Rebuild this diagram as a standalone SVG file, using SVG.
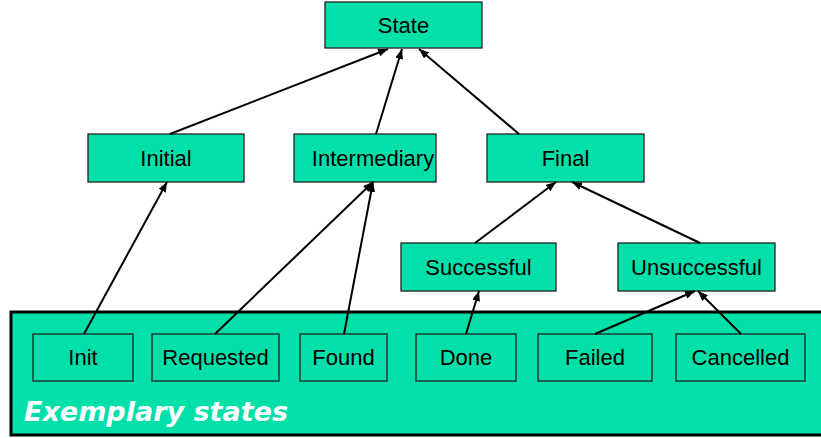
<svg xmlns="http://www.w3.org/2000/svg" width="821" height="438" viewBox="0 0 821 438">
<defs>
<marker id="ah" markerWidth="10" markerHeight="8" refX="10" refY="4" orient="auto" markerUnits="userSpaceOnUse">
<path d="M0,0 L10,4 L0,8 z" fill="#000"/>
</marker>
<style>
.n{fill:#00E0A8;stroke:#222;stroke-width:1.3}
.t{font-family:"Liberation Sans",Arial,sans-serif;font-size:22px;fill:#000;text-anchor:middle;dominant-baseline:central}
.c line{stroke:#000;stroke-width:2;marker-end:url(#ah)}
</style>
</defs>
<rect width="821" height="438" fill="#fff"/>
<g id="container">
<rect x="11" y="312" width="812" height="123" fill="#00E0A8" stroke="#000" stroke-width="3"/>
<text x="24" y="421" font-family="Verdana,'DejaVu Sans',sans-serif" font-size="26" font-weight="bold" font-style="italic" fill="#fff" textLength="264" lengthAdjust="spacingAndGlyphs">Exemplary states</text>
</g>
<g id="State"><rect class="n" x="325" y="2" width="157" height="46"/><text class="t" x="403.5" y="25">State</text></g>
<g id="Initial"><rect class="n" x="88" y="134" width="156" height="48"/><text class="t" x="166" y="158">Initial</text></g>
<g id="Intermediary"><rect class="n" x="294" y="134" width="142" height="48"/><text class="t" x="373" y="158">Intermediary</text></g>
<g id="Final"><rect class="n" x="487" y="134" width="157" height="48"/><text class="t" x="565.5" y="158">Final</text></g>
<g id="Successful"><rect class="n" x="401" y="243" width="155" height="48"/><text class="t" x="478.5" y="267">Successful</text></g>
<g id="Unsuccessful"><rect class="n" x="618" y="243" width="157" height="48"/><text class="t" x="696.5" y="267">Unsuccessful</text></g>
<g id="Init"><rect class="n" x="33" y="334" width="100" height="47"/><text class="t" x="83" y="357.5">Init</text></g>
<g id="Requested"><rect class="n" x="152" y="334" width="127" height="47"/><text class="t" x="215.5" y="357.5">Requested</text></g>
<g id="Found"><rect class="n" x="300" y="334" width="87" height="47"/><text class="t" x="343.5" y="357.5">Found</text></g>
<g id="Done"><rect class="n" x="416" y="334" width="100" height="47"/><text class="t" x="466" y="357.5">Done</text></g>
<g id="Failed"><rect class="n" x="538" y="334" width="114" height="47"/><text class="t" x="595" y="357.5">Failed</text></g>
<g id="Cancelled"><rect class="n" x="676" y="334" width="129" height="47"/><text class="t" x="740.5" y="357.5">Cancelled</text></g>
<g class="c" id="connectors">
<line x1="170" y1="134" x2="388" y2="49"/>
<line x1="376" y1="134" x2="402" y2="49"/>
<line x1="519" y1="134" x2="419" y2="49"/>
<line x1="84" y1="334" x2="167" y2="182"/>
<line x1="215" y1="334" x2="373" y2="182"/>
<line x1="344" y1="334" x2="373" y2="182"/>
<line x1="475" y1="243" x2="556" y2="182"/>
<line x1="700" y1="243" x2="572" y2="182"/>
<line x1="466" y1="334" x2="479" y2="291"/>
<line x1="595" y1="334" x2="695" y2="291"/>
<line x1="741" y1="334" x2="698" y2="291"/>
</g>
</svg>
